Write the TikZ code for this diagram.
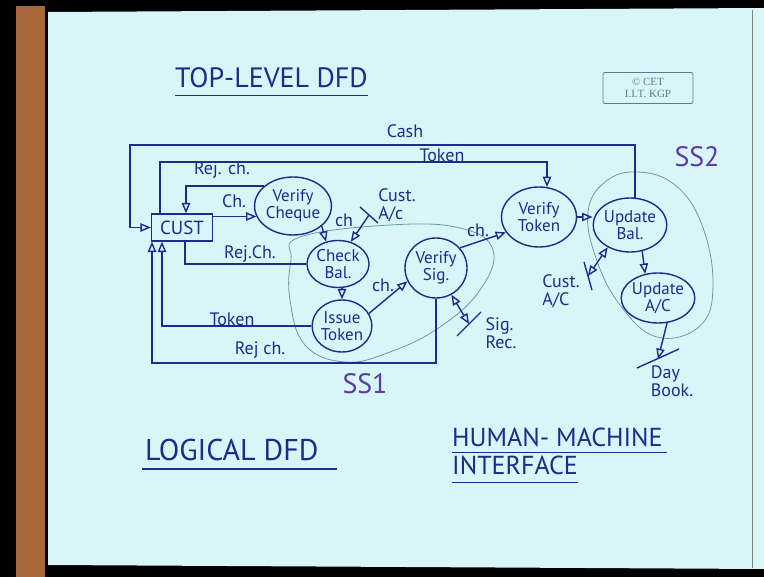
\documentclass[tikz,border=0pt]{standalone}
\usepackage{fontspec}
\setmainfont{PT Sans}
\newfontfamily\stampfont{Liberation Serif}
\usetikzlibrary{arrows,shapes.geometric}
\definecolor{inkblue}{HTML}{1E2A8C}
\definecolor{board}{HTML}{D8F6F8}
\definecolor{ssline}{HTML}{6F97A8}
\definecolor{sspurple}{HTML}{5A3AA8}
\definecolor{wood}{HTML}{A8673A}
\definecolor{stampgray}{HTML}{66768A}
\tikzset{
	ink/.style={draw=inkblue, line width=1.4pt},
	flow/.style={ink, ->}, % one way data flow
	both/.style={ink, <->},
	>=open triangle 45,
	proc/.style={ellipse, ink, inner sep=0pt, align=center, text=inkblue,
		font=\fontsize{17}{17}\selectfont},
	extbox/.style={rectangle, ink, inner sep=0pt, minimum width=61pt,
		minimum height=27pt, text=inkblue, font=\fontsize{19}{19}\selectfont},
	lbl/.style={text=inkblue, inner sep=1pt, align=left,
		font=\fontsize{18}{18}\selectfont},
	storebar/.style={ink},
	region/.style={draw=ssline, line width=0.8pt},
	sslbl/.style={text=sspurple, font=\fontsize{28}{28}\selectfont},
	heading/.style={text=inkblue, anchor=west, inner sep=0pt,
		font=\fontsize{26}{26}\selectfont},
	uline/.style={draw=inkblue, line width=1.2pt},
}

\begin{document}
\begin{tikzpicture}[x=1pt,y=-1pt]
	\useasboundingbox (0,0) rectangle (764,577);
	% board
	\fill[black] (0,0) rectangle (764,577);
	\fill[wood] (16,6) rectangle (45,577);
	\fill[board] (48,12) -- (764,8) -- (764,569) -- (48,565) -- cycle;
	\draw[gray, line width=1pt] (752,10) -- (752,568);

	% subsystems
	\draw[region] plot[smooth cycle, tension=0.7] coordinates {(300,237) (390,225) (460,228) (493,250) (480,290) (440,327) (390,352) (345,362) (305,345) (290,300) (291,260)};
	\draw[region] plot[smooth cycle, tension=0.7] coordinates {(637,172) (605,182) (588,212) (596,258) (620,305) (657,337) (700,326) (713,285) (702,225) (675,185)};
	\node[sslbl] (ss1) at (365,384) {SS1};
	\node[sslbl] (ss2) at (697,157) {SS2};

	% processes
	\node[extbox] (cust) at (182,227.5) {CUST};
	\node[proc, minimum width=76pt, minimum height=58pt] (vcheque) at (293,206) {Verify\\Cheque};
	\node[proc, minimum width=62pt, minimum height=47pt] (checkbal) at (338,264) {Check\\Bal.};
	\node[proc, minimum width=53pt, minimum height=52pt] (issuetok) at (342,326) {Issue\\Token};
	\node[proc, minimum width=62pt, minimum height=60pt] (vsig) at (436,268) {Verify\\Sig.};
	\node[proc, minimum width=75pt, minimum height=60pt] (vtoken) at (539,217) {Verify\\Token};
	\node[proc, minimum width=64pt, minimum height=54pt] (updbal) at (630,225) {Update\\Bal.};
	\node[proc, minimum width=64pt, minimum height=50pt] (updac) at (658,298) {Update\\A/C};

	% stores
	\coordinate (custac) at (369,215);
	\coordinate (sigrec) at (469,324);
	\coordinate (custac2) at (588,276);
	\coordinate (daybook) at (658,359);
	\draw[storebar] (custac) ++(-9,-8) -- ++(18,16);
	\draw[storebar] (sigrec) ++(-12,12) -- ++(24,-24);
	\draw[storebar] (custac2) ++(-4,-14) -- ++(8,28);
	\draw[storebar] (daybook) ++(-21,9) -- ++(42,-19);

	% flows
	\draw[flow] (updbal.80) |- (130,145) |- (cust.west);
	\draw[flow] ([xshift=-22pt]cust.north) |- (300,162) -| (vtoken.75);
	\draw[flow] (vcheque.145) -| ([xshift=4pt]cust.north);
	\draw[flow] (cust.east |- vcheque.196) -- (vcheque.196);
	\draw[flow] (vcheque.-35) -- (checkbal.118);
	\draw[flow] (custac) -- (checkbal.60);
	\draw[ink] (checkbal.west) -| ([xshift=3pt]cust.south);
	\draw[flow] (issuetok.north |- checkbal.south) -- (issuetok.north);
	\draw[flow] (issuetok.west) -| ([xshift=-20pt]cust.south);
	\draw[flow] (vsig.south) |- (152,363) -- ([xshift=-30pt]cust.south);
	\draw[flow] (issuetok.25) -- (vsig.205);
	\draw[flow] (vsig.40) -- (vtoken.205);
	\draw[both] (vsig.-60) -- (sigrec);
	\draw[flow] (vtoken.east) -- (updbal.west |- vtoken.east);
	\draw[both] (custac2) -- (updbal.225);
	\draw[flow] (updbal.-65) -- (updac.118);
	\draw[flow] (updac.-70) -- (daybook);

	% flow labels
	\node[lbl] (lcash) at (405,131) {Cash};
	\node[lbl] (ltoken) at (442,155) {Token};
	\node[lbl] (lrejch) at (222,170) {Rej. ch.};
	\node[lbl] (lch) at (234,201) {Ch.};
	\node[lbl] (lchb) at (344,220) {ch};
	\node[lbl] (lcustac) at (397,205) {Cust.\\A/c};
	\node[lbl] (lrejchb) at (250,254) {Rej.Ch.};
	\node[lbl] (ltokenb) at (232,319) {Token};
	\node[lbl] (lrejchc) at (260,350) {Rej ch.};
	\node[lbl] (lchc) at (383,285) {ch.};
	\node[lbl] (lchd) at (478,230) {ch.};
	\node[lbl] (lsigrec) at (501,333) {Sig.\\Rec.};
	\node[lbl] (lcustacb) at (561,291) {Cust.\\A/C};
	\node[lbl] (ldaybook) at (672,381) {Day\\Book.};

	% headings
	\node[heading, font=\fontsize{28}{28}\selectfont] (title) at (175,78) {TOP-LEVEL DFD};
	\draw[uline] ([yshift=-7pt]title.south west) -- ([yshift=-7pt]title.south east);
	\node[heading, font=\fontsize{30}{30}\selectfont] (logical) at (145,450) {LOGICAL DFD};
	\draw[uline] ([xshift=-3pt,yshift=-8pt]logical.south west) -- ([xshift=18pt,yshift=-8pt]logical.south east);
	\node[heading] (human) at (452,437) {HUMAN- MACHINE};
	\draw[uline] ([yshift=-6pt]human.south west) -- ([xshift=4pt,yshift=-6pt]human.south east);
	\node[heading] (iface) at (452,465) {INTERFACE};
	\draw[uline] ([yshift=-8pt]iface.south west) -- ([yshift=-8pt]iface.south east);

	\node[draw=stampgray, line width=0.8pt, rounded corners=2pt, minimum width=90pt, minimum height=31pt,
		align=center, text=stampgray, font=\stampfont\fontsize{11}{12}\selectfont] (stamp) at (648,88) {© CET\\I.I.T. KGP};
\end{tikzpicture}
\end{document}
